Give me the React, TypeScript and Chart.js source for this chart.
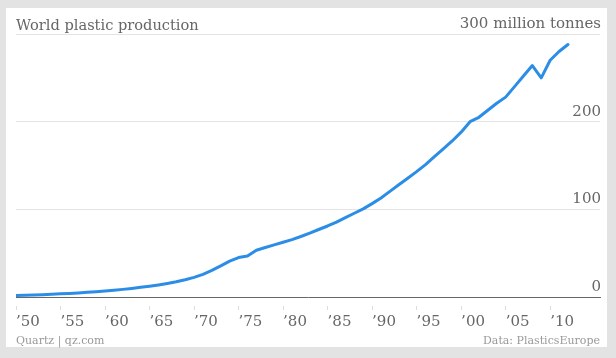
import React, { useEffect, useRef } from "react";
import { Chart, registerables } from "chart.js";

Chart.register(...registerables);

const years: number[] = [
  1950, 1951, 1952, 1953, 1954, 1955, 1956, 1957, 1958, 1959,
  1960, 1961, 1962, 1963, 1964, 1965, 1966, 1967, 1968, 1969,
  1970, 1971, 1972, 1973, 1974, 1975, 1976, 1977, 1978, 1979,
  1980, 1981, 1982, 1983, 1984, 1985, 1986, 1987, 1988, 1989,
  1990, 1991, 1992, 1993, 1994, 1995, 1996, 1997, 1998, 1999,
  2000, 2001, 2002, 2003, 2004, 2005, 2006, 2007, 2008, 2009,
  2010, 2011, 2012,
];

const production: number[] = [
  1.7, 2.0, 2.3, 2.7, 3.1, 3.6, 4.1, 4.7, 5.4, 6.1,
  6.8, 7.7, 8.7, 9.8, 11.0, 12.3, 13.8, 15.5, 17.4, 19.7,
  22.4, 25.8, 30.3, 35.5, 41.0, 45.0, 46.7, 53.3, 56.5, 59.5,
  62.5, 65.5, 69.0, 72.8, 77.0, 81.0, 85.5, 90.5, 95.5, 100.5,
  106.5, 113.0, 120.5, 128.0, 135.5, 143.0, 151.0, 160.0, 169.0, 178.0,
  188.0, 200.0, 205.0, 213.0, 221.0, 228.0, 240.0, 252.0, 264.0, 250.0,
  270.0, 280.0, 288.0,
];

const xTickYears: number[] = [1950, 1955, 1960, 1965, 1970, 1975, 1980, 1985, 1990, 1995, 2000, 2005, 2010];
const yTickValues: number[] = [0, 100, 200, 300];

const titleText = "World plastic production";
const unitText = "million tonnes";
const sourceLeft = "Quartz | qz.com";
const sourceRight = "Data: PlasticsEurope";

const FONT = "'DejaVu Serif', serif";

export default function App() {
  const canvasRef = useRef<HTMLCanvasElement | null>(null);

  useEffect(() => {
    const canvas = canvasRef.current;
    if (!canvas) return;
    const chart = new Chart(canvas, {
      type: "line",
      data: {
        datasets: [
          {
            data: years.map((y, i) => ({ x: y, y: production[i] })),
            borderColor: "#2b8de6",
            borderWidth: 3,
            pointRadius: 0,
            tension: 0,
            fill: false,
            borderJoinStyle: "round",
            borderCapStyle: "round",
          },
        ],
      },
      options: {
        animation: false,
        responsive: false,
        maintainAspectRatio: false,
        devicePixelRatio: 1,
        layout: { padding: { left: 16, right: 16, top: 34, bottom: 0 } },
        plugins: { legend: { display: false }, tooltip: { enabled: false }, title: { display: false } },
        scales: {
          x: {
            type: "linear",
            min: 1950,
            max: 2015.6,
            afterBuildTicks: (s: any) => {
              s.ticks = xTickYears.map((v) => ({ value: v }));
            },
            afterFit: (s: any) => {
              s.height = 61;
            },
            ticks: {
              align: "start",
              padding: 3,
              color: "#666",
              maxRotation: 0,
              autoSkip: false,
              font: { family: FONT, size: 15 },
              callback: (v: any) => "\u2019" + String(v).slice(2),
            },
            grid: {
              drawOnChartArea: false,
              drawTicks: true,
              tickLength: 13,
              tickColor: "#dddddd",
              tickBorderDash: [0, 8, 5, 0],
            },
            border: { display: true, color: "#666", width: 1 },
          },
          y: {
            position: "right",
            min: 0,
            max: 300,
            afterBuildTicks: (s: any) => {
              s.ticks = yTickValues.map((v) => ({ value: v }));
            },
            afterFit: (s: any) => {
              s.width = 0;
            },
            ticks: {
              mirror: true,
              padding: 1,
              labelOffset: -10,
              color: "#666",
              font: { family: FONT, size: 15 },
              callback: (v: any) => (v === 300 ? `300 ${unitText}` : String(v)),
            },
            grid: {
              drawTicks: false,
              color: (ctx: any) => (ctx.tick && ctx.tick.value === 0 ? "rgba(0,0,0,0)" : "#e4e4e4"),
            },
            border: { display: false },
          },
        },
      },
    });
    return () => chart.destroy();
  }, []);

  return (
    <div style={{ position: "fixed", left: 0, top: 0, width: 616, height: 358, background: "#e3e3e3", overflow: "hidden" }}>
      <div style={{ position: "absolute", left: 6, top: 8, width: 601, height: 339, background: "#ffffff" }} />
      <canvas ref={canvasRef} width={616} height={358} style={{ position: "absolute", left: 0, top: 0, width: 616, height: 358 }} />
      <div style={{ position: "absolute", left: 16, top: 17, fontFamily: FONT, fontSize: 14.6, lineHeight: "15px", color: "#666", whiteSpace: "nowrap" }}>{titleText}</div>
      <div style={{ position: "absolute", left: 16, top: 335, fontFamily: FONT, fontSize: 11, lineHeight: "11px", color: "#999", whiteSpace: "nowrap" }}>{sourceLeft}</div>
      <div style={{ position: "absolute", right: 16, top: 335, fontFamily: FONT, fontSize: 11, lineHeight: "11px", color: "#999", whiteSpace: "nowrap" }}>{sourceRight}</div>
    </div>
  );
}
